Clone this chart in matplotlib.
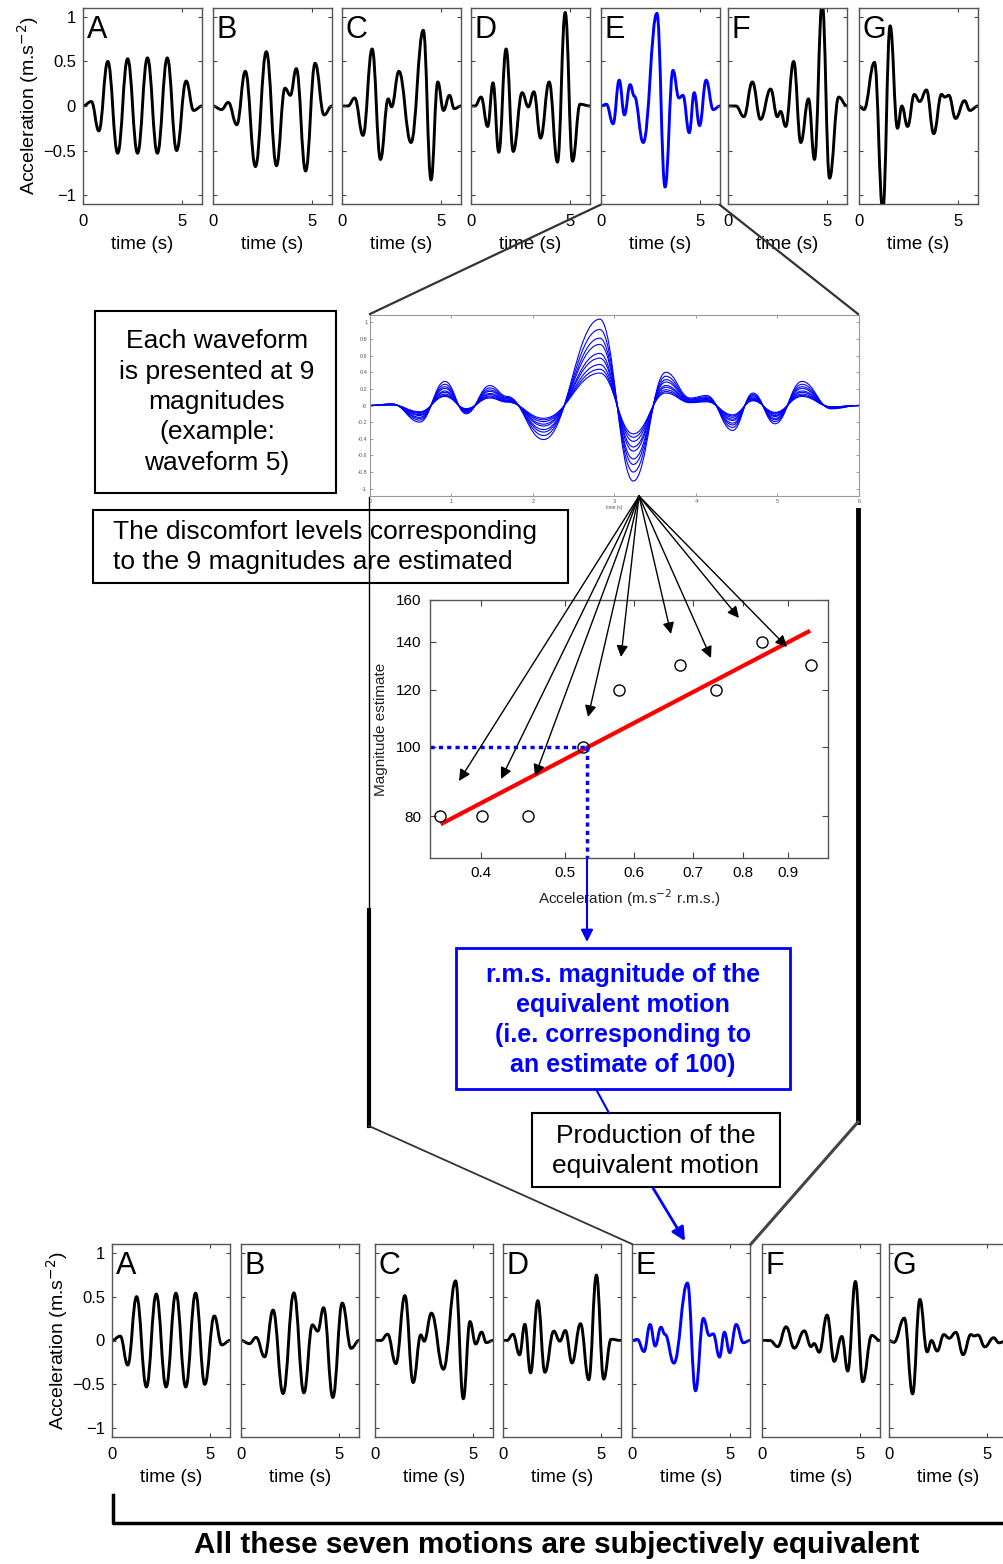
import numpy as np
import matplotlib.pyplot as plt
from matplotlib.path import Path
from matplotlib.patches import PathPatch, Rectangle

plt.rcParams['font.family'] = ['Liberation Sans', 'DejaVu Sans']

# Waveform extrema (time s, acceleration m/s^2) read from the top row
wave_names = ["A", "B", "C", "D", "E", "F", "G"]
wave_A_t = [0, 0.42, 0.8, 1.25, 1.75, 2.25, 2.75, 3.25, 3.75, 4.25, 4.72, 5.2, 5.58, 6.0]
wave_A_v = [0, 0.05, -0.28, 0.50, -0.53, 0.53, -0.53, 0.54, -0.53, 0.54, -0.50, 0.28, -0.05, 0]
wave_B_t = [0, 0.43, 0.77, 1.2, 1.63, 2.14, 2.69, 3.2, 3.63, 3.9, 4.2, 4.67, 5.15, 5.6, 6.0]
wave_B_v = [0, -0.04, 0.04, -0.21, 0.39, -0.68, 0.61, -0.67, 0.20, 0.12, 0.42, -0.73, 0.48, -0.10, 0]
wave_C_t = [0, 0.3, 0.64, 1.06, 1.52, 1.94, 2.33, 2.5, 2.87, 3.48, 4.1, 4.49, 4.83, 5.12, 5.42, 5.66, 6.0]
wave_C_v = [0, 0, 0.09, -0.33, 0.64, -0.60, 0.08, -0.01, 0.39, -0.41, 0.85, -0.83, 0.27, -0.05, 0.12, -0.03, 0]
wave_D_t = [0, 0.2, 0.51, 0.84, 1.11, 1.4, 1.77, 2.13, 2.58, 2.89, 3.17, 3.51, 3.94, 4.36, 4.75, 5.12, 5.5, 6.0]
wave_D_v = [0, 0, 0.10, -0.23, 0.26, -0.52, 0.64, -0.51, 0.15, -0.01, 0.16, -0.36, 0.27, -0.63, 1.05, -0.62, 0.02, 0]
wave_E_t = [0, 0.27, 0.61, 0.92, 1.18, 1.47, 1.68, 2.13, 2.82, 3.23, 3.63, 3.93, 4.13, 4.45, 4.70, 4.97, 5.30, 5.66, 6.0]
wave_E_v = [0, 0.02, -0.20, 0.29, -0.10, 0.24, 0.11, -0.41, 1.04, -0.91, 0.40, 0.09, 0.12, -0.30, 0.15, -0.22, 0.29, -0.04, 0]
wave_F_t = [0, 0.4, 0.8, 1.23, 1.64, 2.15, 2.49, 2.65, 2.91, 3.31, 3.67, 4.06, 4.36, 4.75, 5.12, 5.58, 6.0]
wave_F_v = [0, 0, -0.12, 0.27, -0.15, 0.19, -0.12, -0.06, -0.23, 0.50, -0.41, 0.08, -0.60, 1.16, -0.81, 0.10, 0]
wave_G_t = [0, 0.25, 0.78, 1.2, 1.57, 1.94, 2.16, 2.45, 2.79, 3.06, 3.4, 3.77, 4.16, 4.33, 4.53, 4.87, 5.32, 5.59, 6.0]
wave_G_v = [0, -0.04, 0.49, -1.17, 0.90, -0.25, 0.0, -0.23, 0.13, 0.05, 0.18, -0.31, 0.13, 0.10, 0.12, -0.14, 0.06, -0.05, 0]
wave_t = [wave_A_t, wave_B_t, wave_C_t, wave_D_t, wave_E_t, wave_F_t, wave_G_t]
wave_v = [wave_A_v, wave_B_v, wave_C_v, wave_D_v, wave_E_v, wave_F_v, wave_G_v]
# equivalent magnitude of each waveform relative to the top row
equiv_scale = [1.0, 0.89, 0.80, 0.71, 0.63, 0.58, 0.52]

# magnitude estimation for waveform 5 (E)
rms_acc = np.array([0.359, 0.401, 0.453, 0.524, 0.576, 0.676, 0.745, 0.841, 0.955])
mag_est = np.array([80, 80, 80, 100, 120, 130, 120, 140, 130])
fit_acc = [0.36, 0.954]
fit_est = [78, 145]
equiv_acc = 0.53
equiv_est = 100

W, H = 1004, 1564
fig = plt.figure(figsize=(W / 100, H / 100), dpi=100)


def add_ax(l, t, r, b):
    return fig.add_axes([l / W, 1 - b / H, (r - l) / W, (b - t) / H])


def wave_patch(t, v, scale, color, lw):
    # smooth curve through the extrema, flat at each turning point
    verts = [(t[0], v[0] * scale)]
    codes = [Path.MOVETO]
    for i in range(len(t) - 1):
        dt = t[i + 1] - t[i]
        verts += [(t[i] + 0.42 * dt, v[i] * scale),
                  (t[i + 1] - 0.42 * dt, v[i + 1] * scale),
                  (t[i + 1], v[i + 1] * scale)]
        codes += [Path.CURVE4] * 3
    return PathPatch(Path(verts, codes), fill=False, ec=color, lw=lw,
                     capstyle='round', joinstyle='round')


def matlab_axes(ax):
    ax.tick_params(direction='in', top=True, right=True, length=3,
                   width=0.8, color='#444444', labelsize=12, pad=7)
    for s in ax.spines.values():
        s.set_color('#555555')
        s.set_linewidth(1.0)


def wave_row(lefts, width, top, bottom, scales, last_cut=False):
    for i, name in enumerate(wave_names):
        w = width
        xmax = 6
        if last_cut and i == len(wave_names) - 1:
            # last panel runs off the right edge of the page
            w = width * 6.4 / 6
            xmax = 6.4
        ax = add_ax(lefts[i], top, lefts[i] + w, bottom)
        color = 'blue' if name == 'E' else 'black'
        ax.add_patch(wave_patch(wave_t[i], wave_v[i], scales[i], color, 2.1))
        ax.set_xlim(0, xmax)
        ax.set_ylim(-1.1, 1.1)
        ax.set_xticks([0, 5])
        ax.set_yticks([-1, -0.5, 0, 0.5, 1])
        matlab_axes(ax)
        if i == 0:
            ax.set_yticklabels(['\u22121', '\u22120.5', '0', '0.5', '1'])
            ax.set_ylabel('Acceleration (m.s$^{-2}$)', fontsize=14, labelpad=2)
            ax.tick_params(axis='y', pad=5)
        else:
            ax.set_yticklabels([])
        ax.set_xlabel('time (s)', fontsize=13.5, labelpad=5)
        if xmax != 6:
            ax.xaxis.set_label_coords(3 / xmax, -0.165)
        ax.text(0.03 * 6 / xmax, 0.965, name, transform=ax.transAxes, ha='left', va='top',
                fontsize=22, color='black')


# top row: waveforms as presented
wave_row([83, 213, 342, 471, 601, 728, 859], 119, 8, 204, [1.0] * 7)
# bottom row: equivalent motions
wave_row([112, 241, 375, 503, 632, 762, 889], 118, 1244, 1437, equiv_scale, last_cut=True)

# middle: waveform 5 at 9 magnitudes
axm = add_ax(370, 315, 859, 496)
for s in rms_acc / rms_acc.max():
    axm.add_patch(wave_patch(wave_E_t, wave_E_v, s, 'blue', 0.8))
axm.set_xlim(0, 6)
axm.set_ylim(-1.09, 1.09)
axm.set_xticks(range(7))
axm.set_yticks(np.round(np.arange(-1, 1.01, 0.2), 1))
axm.tick_params(direction='in', top=True, right=True, length=2, width=0.5,
                color='#777777', labelsize=4, pad=2, labelcolor='#555555')
axm.set_yticklabels([('%g' % v) for v in np.round(np.arange(-1, 1.01, 0.2), 1)])
axm.set_xlabel('time (s)', fontsize=3.5, labelpad=1, color='#555555')
for s in axm.spines.values():
    s.set_color('#999999')
    s.set_linewidth(0.8)

# scatter of magnitude estimates
axs = add_ax(430, 600, 828, 858)
axs.set_xscale('log')
axs.set_yscale('log')
axs.set_xlim(0.35, 1.0)
axs.set_ylim(70, 160)
axs.plot(fit_acc, fit_est, color='red', lw=3, solid_capstyle='butt')
axs.plot(rms_acc, mag_est, 'o', mfc='none', mec='black', ms=8, mew=1.0)
axs.plot([0.35, equiv_acc], [equiv_est, equiv_est], color='blue', lw=2.5, ls=(0, (1.2, 1.2)))
axs.plot([equiv_acc, equiv_acc], [equiv_est, 70], color='blue', lw=2.5, ls=(0, (1.2, 1.2)))
axs.set_xticks([0.4, 0.5, 0.6, 0.7, 0.8, 0.9])
axs.set_xticklabels(['0.4', '0.5', '0.6', '0.7', '0.8', '0.9'])
axs.set_yticks([80, 100, 120, 140, 160])
axs.set_yticklabels(['80', '100', '120', '140', '160'])
axs.minorticks_off()
matlab_axes(axs)
axs.tick_params(labelsize=11, length=4, pad=6)
axs.set_xlabel('Acceleration (m.s$^{-2}$ r.m.s.)', fontsize=11, labelpad=5, color='#222222')
axs.set_ylabel('Magnitude estimate', fontsize=11, labelpad=6, color='#222222')

# overlay for connectors, boxes and captions (pixel coordinates)
ov = fig.add_axes([0, 0, 1, 1])
ov.set_xlim(0, W)
ov.set_ylim(H, 0)
ov.axis('off')

ov.plot([600, 370], [205, 314], color='#333333', lw=1.6)
ov.plot([720, 858], [205, 314], color='#333333', lw=1.6)
ov.plot([369, 369], [497, 910], color='black', lw=1.0)
ov.plot([369, 369], [910, 1126], color='black', lw=3.0)
ov.plot([858, 858], [510, 1122], color='black', lw=3.5)
ov.plot([369, 632], [1126, 1244], color='#333333', lw=1.3)
ov.plot([858, 751], [1122, 1244], color='#444444', lw=2.2)

fan_tips = [(459, 781), (501, 779), (535, 776), (588, 717), (621, 657),
            (671, 634), (711, 658), (739, 618), (787, 647)]
for tip in fan_tips:
    ov.annotate('', xy=tip, xytext=(639, 496),
                arrowprops=dict(arrowstyle='-|>', color='black', lw=1.0,
                                mutation_scale=17, shrinkA=0, shrinkB=0))

ov.annotate('', xy=(587, 942), xytext=(587, 858),
            arrowprops=dict(arrowstyle='-|>', color='blue', lw=1.5,
                            mutation_scale=18, shrinkA=0, shrinkB=0))
ov.plot([597, 609], [1091, 1113], color='blue', lw=1.5)
ov.annotate('', xy=(685, 1241), xytext=(653, 1188),
            arrowprops=dict(arrowstyle='-|>', color='blue', lw=2.0,
                            mutation_scale=20, shrinkA=0, shrinkB=0))

ov.add_patch(Rectangle((95, 311), 241, 182, fill=False, ec='black', lw=1.5))
ov.text(217, 402, 'Each waveform\nis presented at 9\nmagnitudes\n(example:\nwaveform 5)',
        ha='center', va='center', fontsize=19, linespacing=1.33)
ov.add_patch(Rectangle((93, 510), 475, 73, fill=False, ec='black', lw=1.5))
ov.text(113, 547, 'The discomfort levels corresponding\nto the 9 magnitudes are estimated',
        ha='left', va='center', fontsize=19, linespacing=1.33)
ov.add_patch(Rectangle((456, 948), 334, 141, facecolor='white', ec='blue', lw=2.0))
ov.text(623, 1020, 'r.m.s. magnitude of the\nequivalent motion\n(i.e. corresponding to\nan estimate of 100)',
        ha='center', va='center', fontsize=18, fontweight='bold', color='blue', linespacing=1.33)
ov.add_patch(Rectangle((532, 1113), 248, 74, facecolor='white', ec='black', lw=1.5))
ov.text(656, 1151, 'Production of the\nequivalent motion',
        ha='center', va='center', fontsize=19, linespacing=1.33)

ov.plot([113, 113, 1004], [1495, 1523, 1523], color='black', lw=2.5)
ov.text(557, 1545, 'All these seven motions are subjectively equivalent',
        ha='center', va='center', fontsize=21.3, fontweight='bold')

fig.savefig('out.png', dpi=100)
